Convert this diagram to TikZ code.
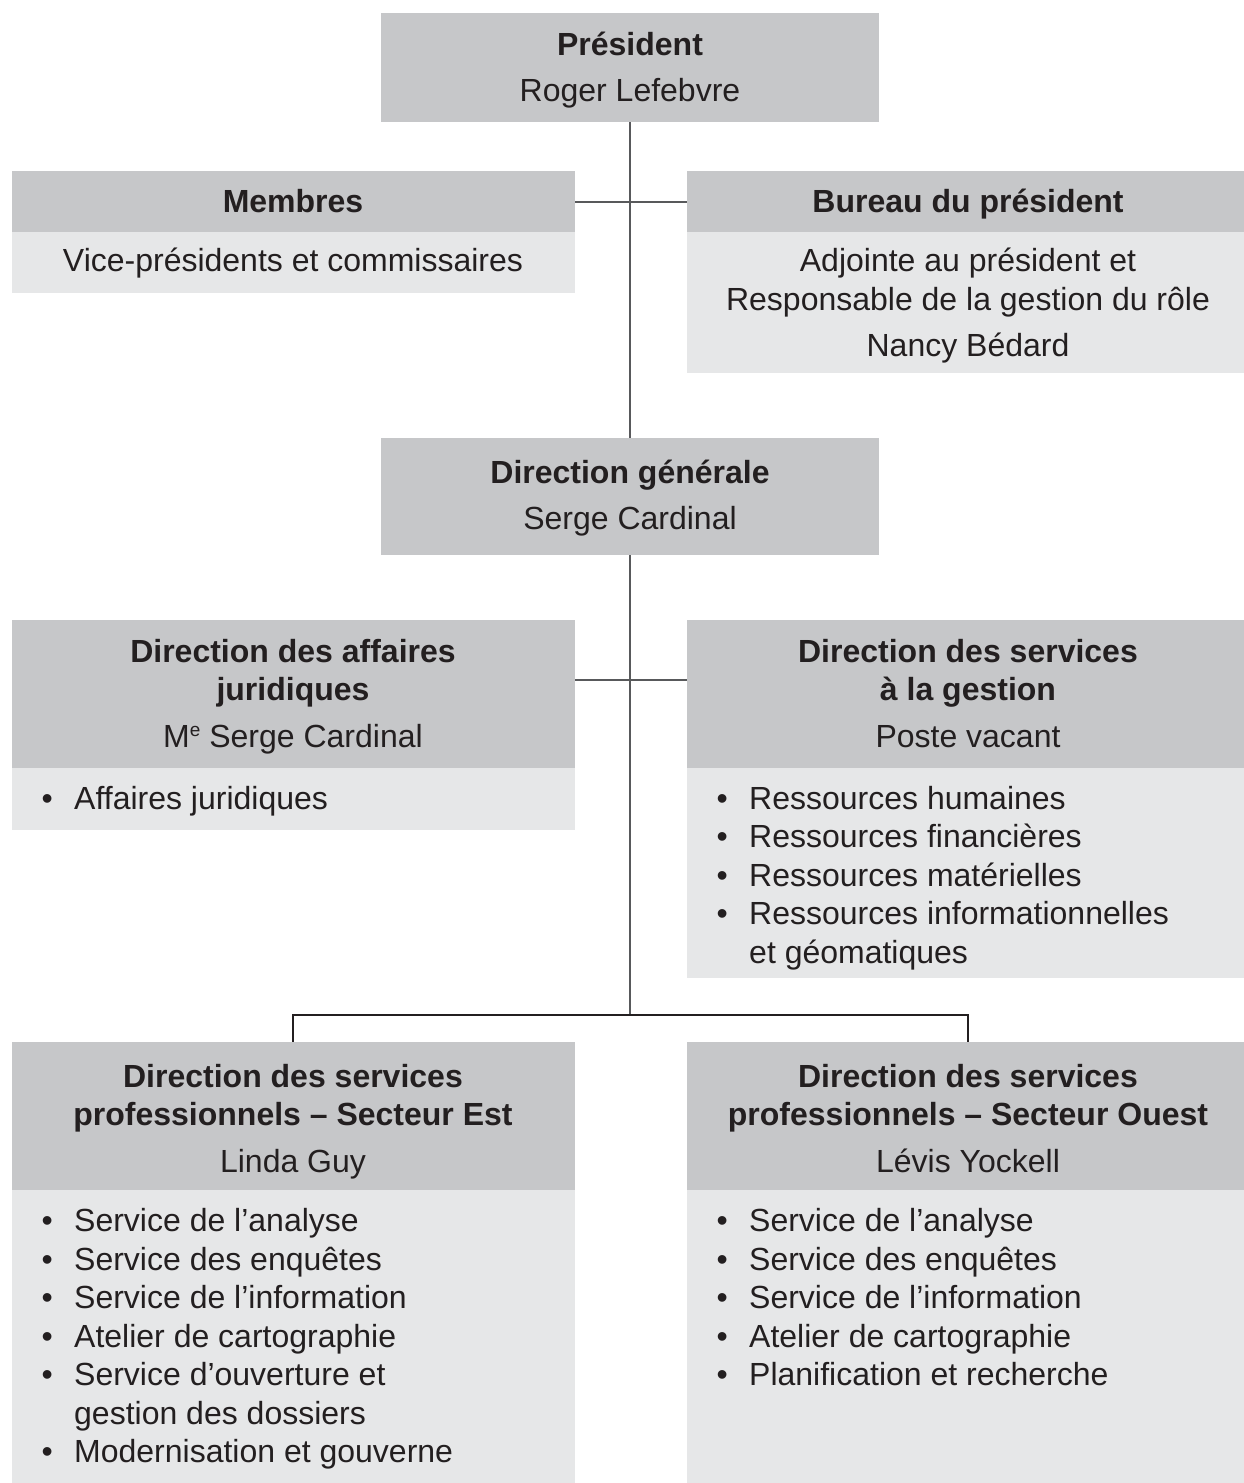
\documentclass[tikz,border=0pt]{standalone}
\usepackage{fontspec}
\setmainfont{Liberation Sans}
\definecolor{hdrgray}{HTML}{C6C7C9}
\definecolor{bodygray}{HTML}{E6E7E8}
\definecolor{inkc}{HTML}{231F20}
\definecolor{linec}{HTML}{58595B}
\begin{document}
\begin{tikzpicture}[x=1pt,y=-1pt,
  hdr/.style={rectangle,fill=hdrgray,draw=none,inner sep=0pt},
  bdy/.style={rectangle,fill=bodygray,draw=none,inner sep=0pt},
  txt/.style={anchor=base,inner sep=0pt,text=inkc,font=\fontsize{32}{38}\selectfont},
  btxt/.style={txt,font=\fontsize{32}{38}\selectfont\bfseries},
  item/.style={anchor=base west,inner sep=0pt,text=inkc,font=\fontsize{32}{38}\selectfont},
  conn/.style={draw=linec,line width=2pt},
  bracket/.style={draw=inkc,line width=2pt}]
\newcommand{\bul}{\llap{•\hspace{21.4pt}}}
\newcommand{\supe}{\raisebox{11pt}{\fontsize{19}{19}\selectfont e}}
\fill[white] (0,0) rectangle (1244,1483);
\useasboundingbox (0,0) rectangle (1244,1483);

% boxes
\node[hdr,minimum width=498pt,minimum height=109pt] (pres) at (630,67.5) {};
\node[hdr,minimum width=563pt,minimum height=61pt] (memH) at (293.5,201.5) {};
\node[bdy,minimum width=563pt,minimum height=61pt] (memB) at (293.5,262.5) {};
\node[hdr,minimum width=557pt,minimum height=61pt] (burH) at (965.5,201.5) {};
\node[bdy,minimum width=557pt,minimum height=141pt] (burB) at (965.5,302.5) {};
\node[hdr,minimum width=498pt,minimum height=117pt] (dg) at (630,496.5) {};
\node[hdr,minimum width=563pt,minimum height=148pt] (djH) at (293.5,694) {};
\node[bdy,minimum width=563pt,minimum height=62pt] (djB) at (293.5,799) {};
\node[hdr,minimum width=557pt,minimum height=148pt] (dsH) at (965.5,694) {};
\node[bdy,minimum width=557pt,minimum height=210pt] (dsB) at (965.5,873) {};
\node[hdr,minimum width=563pt,minimum height=148pt] (estH) at (293.5,1116) {};
\node[bdy,minimum width=563pt,minimum height=293pt] (estB) at (293.5,1336.5) {};
\node[hdr,minimum width=557pt,minimum height=148pt] (ouH) at (965.5,1116) {};
\node[bdy,minimum width=557pt,minimum height=293pt] (ouB) at (965.5,1336.5) {};

% connectors
\coordinate (j1) at (630,680);
\coordinate (j3) at (630,1015);
\draw[conn] (pres.south) -- (dg.north);
\draw[conn] (memH.east) -- (burH.west);
\draw[conn] (dg.south) -- (j3);
\draw[conn] (djH.east |- j1) -- (dsH.west |- j1);
\draw[bracket] (estH.north -| 293,0) -- (293,1015) -- (968,1015) -- (ouH.north -| 968,0);

% texts: top
\node[btxt] (presT) at (630,55) {Président};
\node[txt] (presN) at (630,101) {Roger Lefebvre};
\node[btxt] (memT) at (293,212) {Membres};
\node[txt] (memN) at (293,271) {Vice-présidents et commissaires};
\node[btxt] (burT) at (968,212) {Bureau du président};
\node[txt] (burN1) at (968,271) {Adjointe au président et};
\node[txt] (burN2) at (968,310) {Responsable de la gestion du rôle};
\node[txt] (burN3) at (968,356) {Nancy Bédard};
\node[btxt] (dgT) at (630,483) {Direction générale};
\node[txt] (dgN) at (630,529) {Serge Cardinal};

% juridiques
\node[btxt] (djT1) at (293,662) {Direction des affaires};
\node[btxt] (djT2) at (293,700) {juridiques};
\node[txt] (djN) at (293,747) {M\supe\ Serge Cardinal};
\node[item] (djI1) at (74,809) {\bul Affaires juridiques};

% gestion
\node[btxt] (dsT1) at (968,662) {Direction des services};
\node[btxt] (dsT2) at (968,700) {à la gestion};
\node[txt] (dsN) at (968,747) {Poste vacant};
\node[item] (dsI1) at (749,809) {\bul Ressources humaines};
\node[item] (dsI2) at (749,847) {\bul Ressources financières};
\node[item] (dsI3) at (749,886) {\bul Ressources matérielles};
\node[item] (dsI4) at (749,924) {\bul Ressources informationnelles};
\node[item] (dsI5) at (749,963) {et géomatiques};

% Est
\node[btxt] (estT1) at (293,1087) {Direction des services};
\node[btxt] (estT2) at (293,1125) {professionnels – Secteur Est};
\node[txt] (estN) at (293,1172) {Linda Guy};
\node[item] (estI1) at (74,1231) {\bul Service de l’analyse};
\node[item] (estI2) at (74,1270) {\bul Service des enquêtes};
\node[item] (estI3) at (74,1308) {\bul Service de l’information};
\node[item] (estI4) at (74,1347) {\bul Atelier de cartographie};
\node[item] (estI5) at (74,1385) {\bul Service d’ouverture et};
\node[item] (estI6) at (74,1424) {gestion des dossiers};
\node[item] (estI7) at (74,1462) {\bul Modernisation et gouverne};

% Ouest
\node[btxt] (ouT1) at (968,1087) {Direction des services};
\node[btxt] (ouT2) at (968,1125) {professionnels – Secteur Ouest};
\node[txt] (ouN) at (968,1172) {Lévis Yockell};
\node[item] (ouI1) at (749,1231) {\bul Service de l’analyse};
\node[item] (ouI2) at (749,1270) {\bul Service des enquêtes};
\node[item] (ouI3) at (749,1308) {\bul Service de l’information};
\node[item] (ouI4) at (749,1347) {\bul Atelier de cartographie};
\node[item] (ouI5) at (749,1385) {\bul Planification et recherche};
\end{tikzpicture}
\end{document}
